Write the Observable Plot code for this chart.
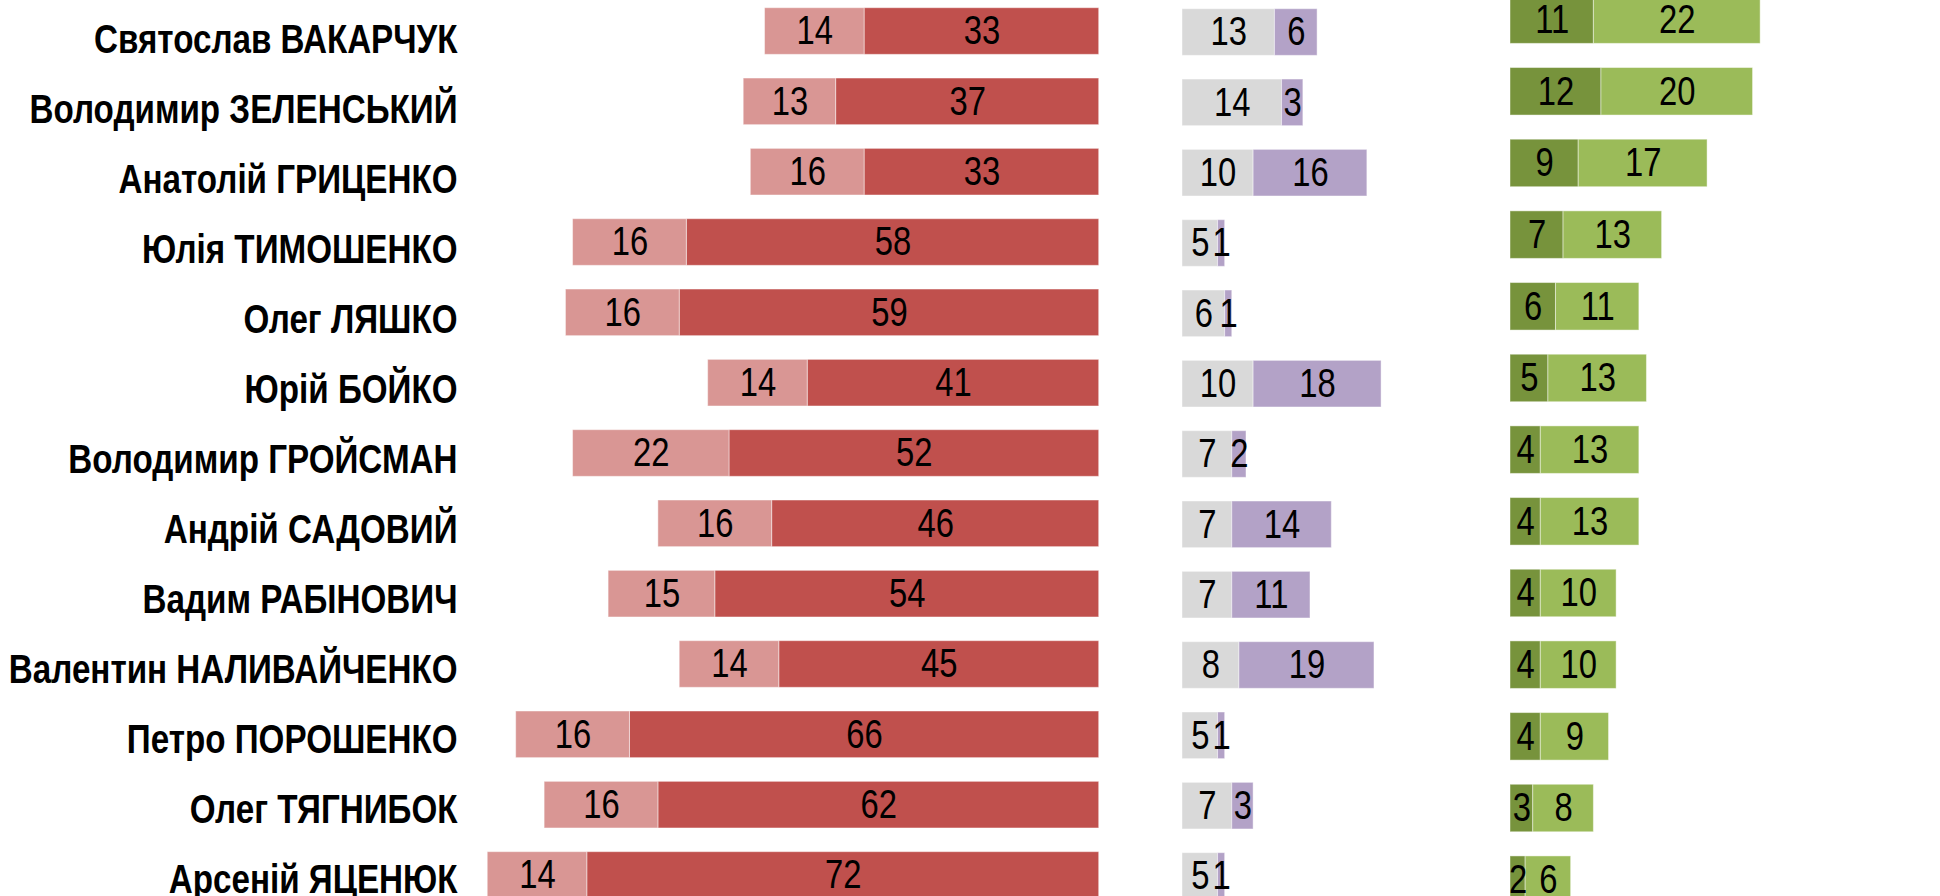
<!DOCTYPE html>
<html>
<head>
<meta charset="utf-8">
<script src="https://cdn.jsdelivr.net/npm/d3@7"></script>
<script src="https://cdn.jsdelivr.net/npm/@observablehq/plot@0.6"></script>
<style>
  html, body { margin: 0; padding: 0; background: #fff; overflow: hidden; }
  #chart { position: relative; width: 1940px; height: 896px; overflow: hidden; }
  #chart > svg, #chart > figure { position: absolute; top: 0; margin: 0; }
</style>
</head>
<body>
<div id="chart"></div>
<script>
const names = [
  "Святослав ВАКАРЧУК",
  "Володимир ЗЕЛЕНСЬКИЙ",
  "Анатолій ГРИЦЕНКО",
  "Юлія ТИМОШЕНКО",
  "Олег ЛЯШКО",
  "Юрій БОЙКО",
  "Володимир ГРОЙСМАН",
  "Андрій САДОВИЙ",
  "Вадим РАБІНОВИЧ",
  "Валентин НАЛИВАЙЧЕНКО",
  "Петро ПОРОШЕНКО",
  "Олег ТЯГНИБОК",
  "Арсеній ЯЦЕНЮК"
];
const redLight   = [14, 13, 16, 16, 16, 14, 22, 16, 15, 14, 16, 16, 14];
const redDark    = [33, 37, 33, 58, 59, 41, 52, 46, 54, 45, 66, 62, 72];
const greyVals   = [13, 14, 10, 5, 6, 10, 7, 7, 7, 8, 5, 7, 5];
const purpleVals = [6, 3, 16, 1, 1, 18, 2, 14, 11, 19, 1, 3, 1];
const greenDark  = [11, 12, 9, 7, 6, 5, 4, 4, 4, 4, 4, 3, 2];
const greenLight = [22, 20, 17, 13, 11, 13, 13, 13, 10, 10, 9, 8, 6];

const FONT = '"Liberation Sans", Arial, sans-serif';
const NARROW = 0.82; // Arial Narrow ≈ 82% of Arial width

function rows(first, second, k1, k2) {
  return [
    ...names.map((name, i) => ({name, series: k1, value: first[i]})),
    ...names.map((name, i) => ({name, series: k2, value: second[i]}))
  ];
}

const redData = rows(redDark, redLight, "s1", "s2");
const greyData = rows(greyVals, purpleVals, "s1", "s2");
const greenData = rows(greenDark, greenLight, "s1", "s2");

const baseStyle = {background: "transparent", overflow: "visible", fontFamily: FONT};

function narrow(svg) {
  svg.querySelectorAll("text").forEach(t => {
    const tr = t.getAttribute("transform") || "";
    t.setAttribute("transform", tr + ` scale(${NARROW},1)`);
  });
  return svg;
}

function panel({data, width, marginLeft, marginRight, xDomain, reverse, yRange, colors}) {
  return narrow(Plot.plot({
    width, height: 896,
    marginLeft, marginRight, marginTop: 0, marginBottom: 0,
    style: baseStyle,
    x: {domain: xDomain, reverse, axis: null},
    y: {domain: names, range: yRange, paddingInner: 0.337, paddingOuter: 0.337, round: false, axis: null},
    color: {domain: ["s1", "s2"], range: colors},
    marks: [
      Plot.barX(data, Plot.stackX({x: "value", y: "name", z: "series", fill: "series",
        stroke: "white", strokeOpacity: 0.45, strokeWidth: 1})),
      Plot.text(data, Plot.stackX({x: "value", y: "name", z: "series",
        text: d => String(d.value), fontSize: 40, fill: "black"}))
    ]
  }));
}

const chart = document.getElementById("chart");

// names column
const labels = narrow(Plot.plot({
  width: 460, height: 896,
  marginLeft: 0, marginRight: 3, marginTop: 0, marginBottom: 0,
  style: baseStyle,
  x: {domain: [0, 1], axis: null},
  y: {type: "point", domain: names, range: [39.5, 879.5], padding: 0, axis: null},
  marks: [
    Plot.text(names, {y: d => d, frameAnchor: "right", textAnchor: "end",
      fontSize: 40.5, fontWeight: "bold", fill: "black"})
  ]
}));
labels.style.left = "0px";
chart.appendChild(labels);

// red panel
const red = panel({
  data: redData, width: 1100, marginLeft: 458.8, marginRight: 1.3,
  xDomain: [0, 90], reverse: true, yRange: [-16, 922],
  colors: ["#C0504D", "#D99694"]
});
red.style.left = "0px";
chart.appendChild(red);

// grey / purple panel
const grey = panel({
  data: greyData, width: 260, marginLeft: 0, marginRight: 260 - 213.3,
  xDomain: [0, 30], reverse: false, yRange: [-15, 923],
  colors: ["#D9D9D9", "#B3A2C7"]
});
grey.style.left = "1182px";
chart.appendChild(grey);

// green panel
const green = panel({
  data: greenData, width: 330, marginLeft: 0, marginRight: 330 - 303.2,
  xDomain: [0, 40], reverse: false, yRange: [-28.3, 927.6],
  colors: ["#77933C", "#9BBB59"]
});
green.style.left = "1509.7px";
chart.appendChild(green);
</script>
</body>
</html>
